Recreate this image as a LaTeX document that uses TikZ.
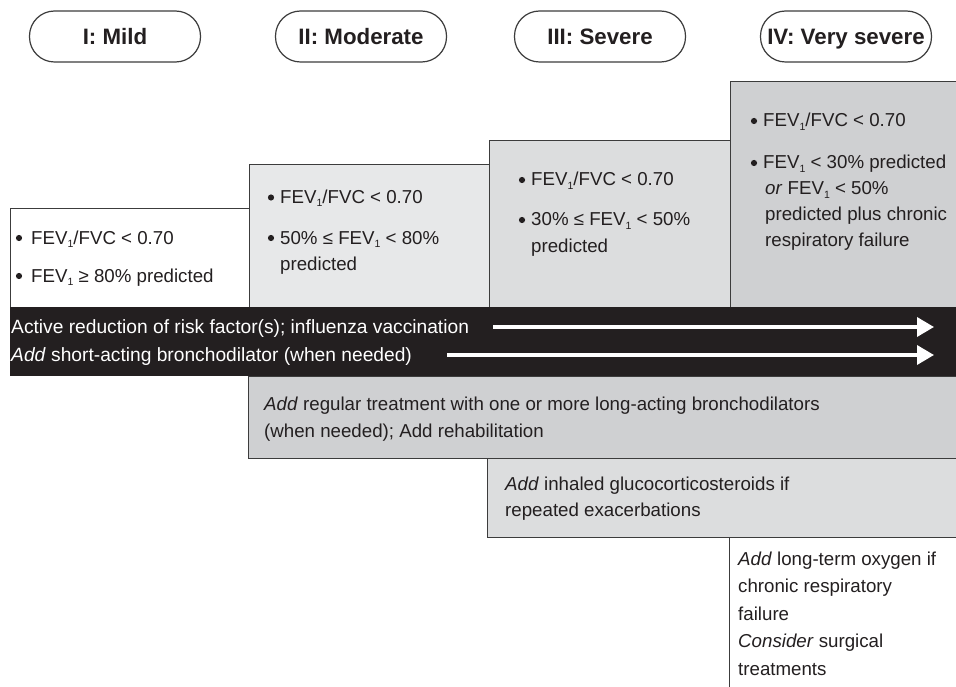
\documentclass[tikz,border=0pt]{standalone}
\usepackage{fontspec}
\setmainfont{Liberation Sans}
\usetikzlibrary{arrows.meta}
\definecolor{ink}{HTML}{231F20}
\definecolor{edge}{HTML}{3C3C3C}
\definecolor{gA}{HTML}{E7E8E9}
\definecolor{gB}{HTML}{DCDDDE}
\definecolor{gC}{HTML}{CFD0D2}
\newcommand\subone{\raisebox{-3.5pt}{\fontsize{10.5}{10.5}\selectfont 1}}
\newcommand\bodyfont{\fontsize{18.7}{26}\selectfont}
\newcommand\bandfont{\fontsize{19.2}{26}\selectfont}
\begin{document}
\begin{tikzpicture}[x=1pt,y=-1pt,
  pill/.style={draw=edge, line width=1.2pt, rounded corners=25pt, fill=white,
    minimum width=171pt, minimum height=51pt, text height=16pt, text depth=0pt,
    font=\fontsize{22.3}{24}\selectfont\bfseries, text=ink, inner sep=0},
  box/.style={draw=edge, line width=1pt},
  txt/.style={anchor=base west, inner sep=0, font=\bodyfont, text=ink},
  wtxt/.style={anchor=base west, inner sep=0, font=\bandfont, text=white},
  dot/.style={circle, fill=ink, inner sep=0, minimum size=6.2pt},
  flow/.style={draw=white, line width=3.5pt, -{Triangle[length=17pt,width=19pt]}}
]
\useasboundingbox (0,0) rectangle (956,687);
\clip (0,0) rectangle (956,687);
\fill[white] (0,0) rectangle (956,687);

% stage pills
\node[pill] (p1) at (115,36.5) {I: Mild};
\node[pill] (p2) at (361,36.5) {II: Moderate};
\node[pill] (p3) at (600,36.5) {III: Severe};
\node[pill] (p4) at (846,36.5) {IV: Very severe};

% stage boxes
\filldraw[box, fill=white] (10,209) rectangle (249,320);
\filldraw[box, fill=gA] (249,165) rectangle (489,320);
\filldraw[box, fill=gB] (489,141) rectangle (730,320);
\filldraw[box, fill=gC] (730,82) rectangle (970,320);

% treatment band and boxes
\fill[ink] (10,307) rectangle (970,376);
\filldraw[box, fill=gC] (248,376) rectangle (970,458);
\filldraw[box, fill=gB] (487,458) rectangle (970,537);
\draw[box] (729,537) -- (729,700);

% box I
\node[dot] (d11) at (19,238) {};
\node[txt] (t11) at (31,244) {FEV\subone/FVC < 0.70};
\node[dot] (d12) at (19,276) {};
\node[txt] (t12) at (31,282) {FEV\subone{} ≥ 80\% predicted};
% box II
\node[dot] (d21) at (271,197.5) {};
\node[txt] (t21) at (280,203.5) {FEV\subone/FVC < 0.70};
\node[dot] (d22) at (271,238) {};
\node[txt] (t22) at (280,244) {50\% ≤ FEV\subone{} < 80\%};
\node[txt] (t23) at (280,270) {predicted};
% box III
\node[dot] (d31) at (522,180) {};
\node[txt] (t31) at (531,186) {FEV\subone/FVC < 0.70};
\node[dot] (d32) at (522,220) {};
\node[txt] (t32) at (531,226) {30\% ≤ FEV\subone{} < 50\%};
\node[txt] (t33) at (531,253) {predicted};
% box IV
\node[dot] (d41) at (754,121) {};
\node[txt] (t41) at (763,127) {FEV\subone/FVC < 0.70};
\node[dot] (d42) at (754,163) {};
\node[txt] (t42) at (763,169) {FEV\subone{} < 30\% predicted};
\node[txt] (t43) at (765,195) {\textit{or} FEV\subone{} < 50\%};
\node[txt] (t44) at (765,221) {predicted plus chronic};
\node[txt] (t45) at (765,247) {respiratory failure};

% band
\node[wtxt] (b1) at (11,333) {Active reduction of risk factor(s); influenza vaccination};
\node[wtxt] (b2) at (11,361) {\textit{Add} short-acting bronchodilator (when needed)};
\coordinate (a1s) at (493,327);
\coordinate (a1e) at (934,327);
\coordinate (a2s) at (447,355);
\coordinate (a2e) at (934,355);
\draw[flow] (a1s) -- (a1e);
\draw[flow] (a2s) -- (a2e);

% treatments
\node[txt] (r1) at (264,410) {\textit{Add} regular treatment with one or more long-acting bronchodilators};
\node[txt] (r2) at (264,437) {(when needed); Add rehabilitation};
\node[txt] (g1) at (505,490) {\textit{Add} inhaled glucocorticosteroids if};
\node[txt] (g2) at (505,516) {repeated exacerbations};
\node[txt] (o1) at (738,565) {\textit{Add} long-term oxygen if};
\node[txt] (o2) at (738,592) {chronic respiratory};
\node[txt] (o3) at (738,620) {failure};
\node[txt] (o4) at (738,647) {\textit{Consider} surgical};
\node[txt] (o5) at (738,675) {treatments};
\end{tikzpicture}
\end{document}
